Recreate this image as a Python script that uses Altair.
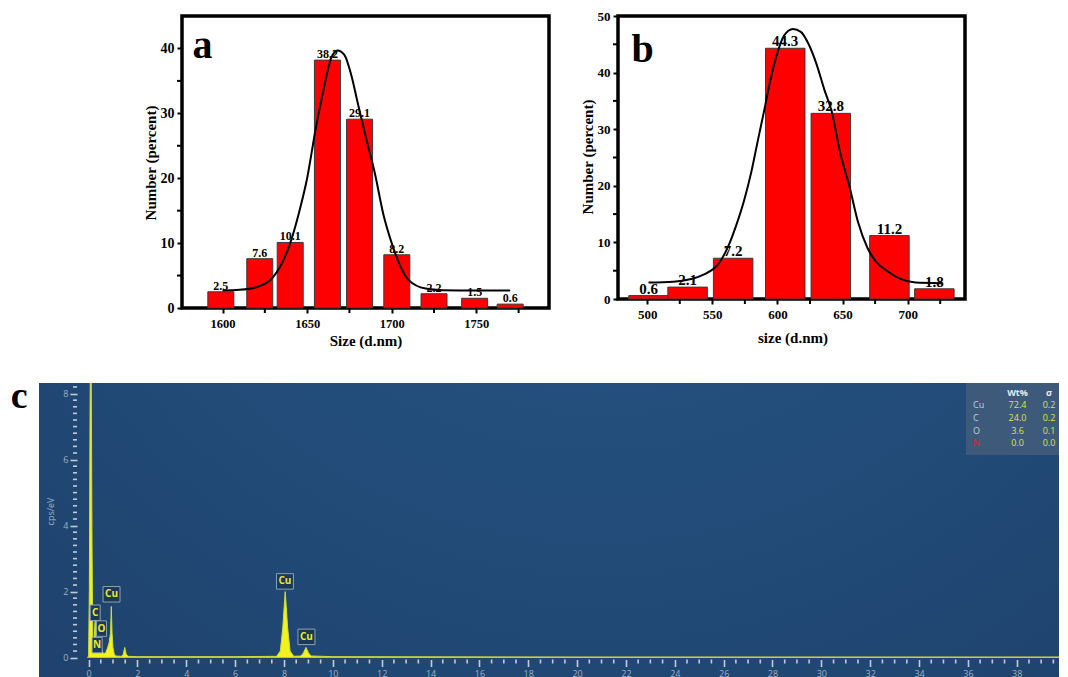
import altair as alt
import pandas as pd

SERIF = "Liberation Serif"
SANS = "Open Sans"

# ---------------- panel a data ----------------
a_size = [1599, 1622, 1640, 1662, 1681, 1703, 1725, 1749, 1770]
a_pct = [2.5, 7.6, 10.1, 38.2, 29.1, 8.2, 2.2, 1.5, 0.6]
a_fit_x = [1600, 1610, 1620, 1630, 1640, 1645, 1650, 1655, 1660, 1664, 1668, 1672,
           1676, 1680, 1685, 1690, 1695, 1700, 1705, 1710, 1720, 1730, 1750, 1770]
a_fit_y = [2.7, 2.8, 3.2, 4.8, 10.0, 14.5, 20.0, 27.5, 34.0, 38.4, 39.7, 39.0,
           36.0, 31.5, 26.0, 20.8, 14.5, 10.0, 6.5, 4.3, 3.0, 2.75, 2.7, 2.7]
a_xticks = [1600, 1650, 1700, 1750]
a_xminor = [1625, 1675, 1725, 1775]
a_yticks = [0, 10, 20, 30, 40]
a_yminor = [5, 15, 25, 35]

# ---------------- panel b data ----------------
b_size = [501, 531, 566, 606, 641, 686, 720.5]
b_pct = [0.6, 2.1, 7.2, 44.3, 32.8, 11.2, 1.8]
b_fit_x = [501, 520, 545, 555, 562, 568, 574.5, 580, 584.5, 590, 594.5, 600, 605, 612,
           618, 624, 630, 636, 641.6, 648, 655.5, 662, 669, 676, 684, 694, 706, 726]
b_fit_y = [2.9, 3.05, 4.5, 6.3, 9.2, 12.8, 17.5, 22.5, 27.5, 33.5, 38.6, 43.5, 46.5, 47.7,
           47.2, 45.0, 41.5, 37.0, 33.2, 26.0, 19.7, 13.5, 9.1, 6.5, 5.0, 3.6, 2.9, 2.8]
b_xticks = [500, 550, 600, 650, 700]
b_xminor = [525, 575, 625, 675, 725]
b_yticks = [0, 10, 20, 30, 40, 50]
b_yminor = [5, 15, 25, 35, 45]

# ---------------- panel c data (EDS spectrum) ----------------
spec_e = [-0.05, 0.0, 0.03, 0.06, 0.08, 0.10, 0.12, 0.14, 0.17, 0.20, 0.24, 0.27, 0.30,
          0.34, 0.39, 0.44, 0.49, 0.52, 0.56, 0.62, 0.70, 0.78, 0.84, 0.90, 0.93, 0.96,
          1.00, 1.05, 1.10, 1.35, 1.42, 1.48, 1.54, 1.62, 2.0, 4.0, 6.0, 7.7, 7.85, 7.95,
          8.05, 8.15, 8.25, 8.4, 8.7, 8.8, 8.9, 9.0, 9.1, 10.0, 20.0, 30.0, 39.73]
spec_c = [0.0, 0.05, 2.0, 7.5, 9.5, 9.5, 6.7, 3.5, 0.6, 0.45, 0.7, 1.15, 0.6,
          0.3, 0.25, 0.2, 0.25, 0.35, 0.2, 0.12, 0.15, 0.3, 0.45, 0.75, 1.55, 0.75,
          0.3, 0.12, 0.05, 0.04, 0.1, 0.31, 0.1, 0.04, 0.03, 0.03, 0.03, 0.04, 0.2, 0.9,
          2.0, 0.9, 0.2, 0.04, 0.05, 0.15, 0.31, 0.15, 0.05, 0.03, 0.02, 0.02, 0.02]
lab_name = ["C", "N", "O", "Cu", "Cu", "Cu"]
lab_e = [0.27, 0.35, 0.53, 0.94, 8.04, 8.92]
lab_c = [1.36, 0.38, 0.88, 1.92, 2.31, 0.63]
c_xticks = [2 * i for i in range(0, 20)]
c_xminor = [round(i * 0.5, 1) for i in range(0, 80) if i % 4 != 0]
c_yticks = [0, 2, 4, 6, 8]
c_yminor = [round(i * 0.2, 1) for i in range(0, 42) if i % 10 != 0]

tbl_head = ["", "Wt%", "σ"]
tbl_el = ["Cu", "C", "O", "N"]
tbl_wt = [72.4, 24.0, 3.6, 0.0]
tbl_sig = [0.2, 0.2, 0.1, 0.0]

one = pd.DataFrame({"k": [0]})


def marker(x0, x1, y0, y1):
    return alt.Chart(one).mark_rect(opacity=0).encode(
        x=alt.value(x0), x2=alt.value(x1), y=alt.value(y0), y2=alt.value(y1))


def ab_axis(values, fsize, title, tx, ty, **kw):
    return alt.Axis(values=values, format="d",
                    domain=False, grid=False, tickColor="black", tickWidth=2, tickSize=5,
                    labelFont=SERIF, labelFontWeight="bold", labelColor="black",
                    labelFontSize=fsize, title=title, titleFont=SERIF,
                    titleFontWeight="bold", titleColor="black", titleFontSize=15,
                    titleX=tx, titleY=ty, titleAlign="center", titleBaseline="middle",
                    **kw)


def hist_panel(sizes, pcts, fx, fy, xdom, ydom, xt, yt, xmin, ymin, w, h,
               barw, lblsize, xlabsize, ylabsize, xtitle, xtx, xty, ytx, yty,
               letter, lx, ly, extra):
    xs = alt.Scale(domain=xdom, nice=False, zero=False)
    ys = alt.Scale(domain=ydom, nice=False)
    df = pd.DataFrame({"size": sizes, "pct": pcts})
    fit = pd.DataFrame({"x": fx, "y": fy})
    bars = alt.Chart(df).mark_bar(size=barw, color="#ff0000", stroke="#3a3a3a",
                                  strokeWidth=1).encode(
        x=alt.X("size:Q", scale=xs,
                axis=ab_axis(xt, xlabsize, xtitle, xtx, xty, labelPadding=4)),
        y=alt.Y("pct:Q", scale=ys,
                axis=ab_axis(yt, ylabsize, "Number (percent)", ytx, yty,
                             labelPadding=3, titleAngle=270)))
    labels = alt.Chart(df).mark_text(font=SERIF, fontWeight="bold", fontSize=lblsize,
                                     baseline="alphabetic", dy=-2, color="black").encode(
        x=alt.X("size:Q", scale=xs), y=alt.Y("pct:Q", scale=ys),
        text=alt.Text("pct:Q", format=".1f"))
    curve = alt.Chart(fit).mark_line(color="black", strokeWidth=2,
                                     interpolate="monotone").encode(
        x=alt.X("x:Q", scale=xs), y=alt.Y("y:Q", scale=ys))
    xminor = alt.Chart(pd.DataFrame({"v": xmin})).mark_rule(
        color="black", strokeWidth=2).encode(
        x=alt.X("v:Q", scale=xs), y=alt.value(h), y2=alt.value(h + 5))
    yminor = alt.Chart(pd.DataFrame({"v": ymin})).mark_rule(
        color="black", strokeWidth=2).encode(
        y=alt.Y("v:Q", scale=ys), x=alt.value(-5), x2=alt.value(0))
    let = alt.Chart(one).mark_text(text=letter, font=SERIF, fontWeight="bold",
                                   fontSize=40, align="center", baseline="alphabetic",
                                   color="black").encode(x=alt.value(lx), y=alt.value(ly))
    layers = [bars, labels, curve, xminor, yminor, let] + extra
    return alt.layer(*layers).properties(
        width=w, height=h, view=alt.ViewBackground(stroke="black", strokeWidth=3.5))


panel_a = hist_panel(a_size, a_pct, a_fit_x, a_fit_y, [1579, 1790], [0, 45], a_xticks,
                     a_yticks, a_xminor, a_yminor, 367, 292, 26, 12, 12.5, 14,
                     "Size (d.nm)", 183.5, 32, -32, 146.5, "a", 20.5, 42,
                     [marker(0, 1, -8, 345)])
panel_b = hist_panel(b_size, b_pct, b_fit_x, b_fit_y, [481.4, 740.2], [0, 50], b_xticks,
                     b_yticks, b_xminor, b_yminor, 347, 283, 39.5, 15, 13, 13,
                     "size (d.nm)", 174.5, 38, -30.5, 140.5, "b", 24.5, 46, [])

spacer = alt.Chart(one).mark_rect(opacity=0).encode(
    x=alt.value(0), x2=alt.value(1), y=alt.value(0), y2=alt.value(1)
).properties(width=74, height=10)

row1 = alt.hconcat(spacer, panel_a, panel_b, spacing=69, bounds="flush")

# ---------------- panel c ----------------
C_W = 1020
C_H = 307
cxs = alt.Scale(domain=[-2.03, 39.73], nice=False, zero=False)
cys = alt.Scale(domain=[-0.98, 8.32], nice=False, zero=False)
TICK_C = "#c0ccd8"
LAB_C = "#9fb1c5"
X_AX = 276.5   # x-axis line position inside panel c
Y_AX = 38      # y-axis line position inside panel c

c_x_axis = alt.Axis(values=c_xticks, format="d",
                    domain=False, grid=False, offset=-(C_H - X_AX), tickColor=TICK_C,
                    tickWidth=1.6, tickSize=7,
                    labelColor=LAB_C, labelFont=SANS, labelFontSize=9, labelPadding=3,
                    title=" ", zindex=1)
c_y_axis = alt.Axis(values=c_yticks, format="d",
                    domain=False, grid=False, offset=-Y_AX, tickColor=TICK_C,
                    tickWidth=1.6, tickSize=7,
                    labelColor=LAB_C, labelFont=SANS, labelFontSize=9, labelPadding=2,
                    title="cps/eV", titleFont=SANS, titleFontSize=9, titleColor=LAB_C,
                    titleFontWeight="normal", titleX=-27, titleY=128, titleAlign="center",
                    titleBaseline="middle", zindex=1)

grad = alt.RadialGradient(gradient="radial",
                          stops=[alt.GradientStop(color="#295b8b", offset=0),
                                 alt.GradientStop(color="#234e7c", offset=0.5),
                                 alt.GradientStop(color="#1f436e", offset=1)],
                          x1=0.55, y1=0, x2=0.55, y2=0, r1=0, r2=0.8)
bg = alt.Chart(one).mark_rect(fill=grad).encode(
    x=alt.value(0), x2=alt.value("width"), y=alt.value(0), y2=alt.value("height"))

spec = pd.DataFrame({"e": spec_e, "c": spec_c})
area = alt.Chart(spec).mark_area(color="#f2f21e", clip=True).encode(
    x=alt.X("e:Q", scale=cxs, axis=c_x_axis), y=alt.Y("c:Q", scale=cys, axis=c_y_axis))
sline = alt.Chart(spec).mark_line(color="#cfdc3c", strokeWidth=1, clip=True).encode(
    x=alt.X("e:Q", scale=cxs), y=alt.Y("c:Q", scale=cys))

c_xm = alt.Chart(pd.DataFrame({"e": c_xminor})).mark_rule(
    color=TICK_C, strokeWidth=1.6).encode(
    x=alt.X("e:Q", scale=cxs), y=alt.value(X_AX), y2=alt.value(X_AX + 4))
c_ym = alt.Chart(pd.DataFrame({"c": c_yminor})).mark_rule(
    color=TICK_C, strokeWidth=1.6).encode(
    y=alt.Y("c:Q", scale=cys), x=alt.value(Y_AX - 4), x2=alt.value(Y_AX))

labdf = pd.DataFrame({"name": lab_name, "e": lab_e, "c": lab_c})
wide = labdf[labdf["name"].str.len() > 1]
narrow = labdf[labdf["name"].str.len() == 1]
box_wide = alt.Chart(wide).mark_point(
    shape="M-1,-0.91L1,-0.91L1,0.91L-1,0.91Z", filled=True, fill="#1b3858",
    stroke="#8ea0b4", strokeWidth=1, size=289, opacity=1, fillOpacity=1).encode(
    x=alt.X("e:Q", scale=cxs), y=alt.Y("c:Q", scale=cys))
box_narrow = alt.Chart(narrow).mark_point(
    shape="M-0.59,-0.91L0.59,-0.91L0.59,0.91L-0.59,0.91Z", filled=True, fill="#1b3858",
    stroke="#8ea0b4", strokeWidth=1, size=289, opacity=1, fillOpacity=1).encode(
    x=alt.X("e:Q", scale=cxs), y=alt.Y("c:Q", scale=cys))
lab_txt = alt.Chart(labdf).mark_text(font=SANS, fontSize=10, fontWeight="bold",
                                     color="#e8ea30").encode(
    x=alt.X("e:Q", scale=cxs), y=alt.Y("c:Q", scale=cys), text="name:N")

tbl_rect = alt.Chart(one).mark_rect(fill="#3d5a7a").encode(
    x=alt.value(927), x2=alt.value(C_W), y=alt.value(0), y2=alt.value(72))
col_x = [934, 978.5, 1010]
head_y = 10
rows_y = [22, 34.7, 47.7, 59.7]
tbl_layers = []
for j, h in enumerate(tbl_head):
    if h:
        tbl_layers.append(alt.Chart(one).mark_text(
            text=h, font=SANS, fontSize=9, fontWeight="bold", color="#e4eaf2",
            align="center", baseline="middle").encode(
            x=alt.value(col_x[j]), y=alt.value(head_y)))
for i in range(len(tbl_el)):
    elc = "#d42a2a" if tbl_el[i] == "N" else "#c5d0dc"
    tbl_layers.append(alt.Chart(one).mark_text(
        text=tbl_el[i], font=SANS, fontSize=9, color=elc, align="left",
        baseline="middle").encode(x=alt.value(col_x[0]), y=alt.value(rows_y[i])))
    tbl_layers.append(alt.Chart(one).mark_text(
        text=f"{tbl_wt[i]:.1f}", font=SANS, fontSize=9, color="#dde24a", align="center",
        baseline="middle").encode(x=alt.value(col_x[1]), y=alt.value(rows_y[i])))
    tbl_layers.append(alt.Chart(one).mark_text(
        text=f"{tbl_sig[i]:.1f}", font=SANS, fontSize=9, color="#dde24a", align="center",
        baseline="middle").encode(x=alt.value(col_x[2]), y=alt.value(rows_y[i])))

letter_c = alt.Chart(one).mark_text(text="c", font=SERIF, fontWeight="bold", fontSize=38,
                                    align="center", baseline="alphabetic",
                                    color="black").encode(x=alt.value(-19.7),
                                                          y=alt.value(25))

panel_c = alt.layer(bg, area, sline, c_xm, c_ym, box_wide, box_narrow, lab_txt, tbl_rect,
                    *tbl_layers, letter_c, marker(-31, -30, -13, -12)).properties(
    width=C_W, height=C_H, view=alt.ViewBackground(stroke="transparent"))

chart = alt.vconcat(row1, panel_c, spacing=6, bounds="full").properties(
    padding={"left": -1, "top": -2, "right": 0, "bottom": 0}
).configure_view(stroke="transparent")

chart.save("out.html", embed_options={"renderer": "svg", "actions": False})
